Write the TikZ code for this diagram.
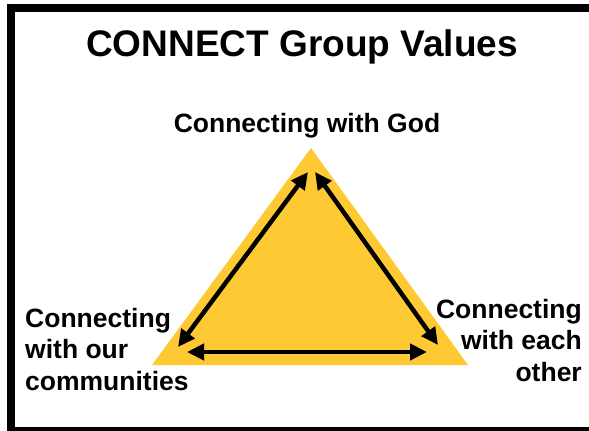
\documentclass[tikz,border=0pt]{standalone}
\usepackage{fontspec}
\setmainfont{Liberation Sans}
\usepackage{xcolor}
\usetikzlibrary{arrows.meta}

\definecolor{valueyellow}{HTML}{FFC933}

\tikzset{
  valtext/.style={font=\bfseries\fontsize{26.5}{31.5}\selectfont,inner sep=0pt},
  twoway/.style={{Triangle[length=17pt,width=16pt]}-{Triangle[length=17pt,width=16pt]},line width=4.5pt},
}

\begin{document}
\begin{tikzpicture}[x=1pt,y=-1pt,line join=miter]
  \useasboundingbox (0,0) rectangle (589,431);
  % frame and title
  \draw[line width=8pt] (11,8) rectangle (597,431);
  \node[font=\bfseries\fontsize{37}{44}\selectfont,inner sep=0pt,anchor=base] (title) at (302,56) {CONNECT Group Values};
  % triangle
  \coordinate (apex) at (311,148);
  \coordinate (lbase) at (152,365);
  \coordinate (rbase) at (468,365);
  \fill[valueyellow] (apex) -- (lbase) -- (rbase) -- cycle;
  % arrow ends
  \coordinate (LL) at (178,347);
  \coordinate (LT) at (308,172);
  \coordinate (RT) at (315,172);
  \coordinate (RL) at (438,345);
  \coordinate (BL) at (187,352);
  \coordinate (BR) at (427,352);
  \draw[twoway] (LL) -- (LT);
  \draw[twoway] (RT) -- (RL);
  \draw[twoway] (BL) -- (BR);
  % labels
  \node[valtext,anchor=base] (god) at (307,132) {Connecting with God};
  \node[valtext,align=left,anchor=base west] (comm) at (25,390) {Connecting\\with our\\communities};
  \node[valtext,align=right,anchor=base east] (other) at (582,381) {Connecting\\with each\\other};
\end{tikzpicture}
\end{document}
